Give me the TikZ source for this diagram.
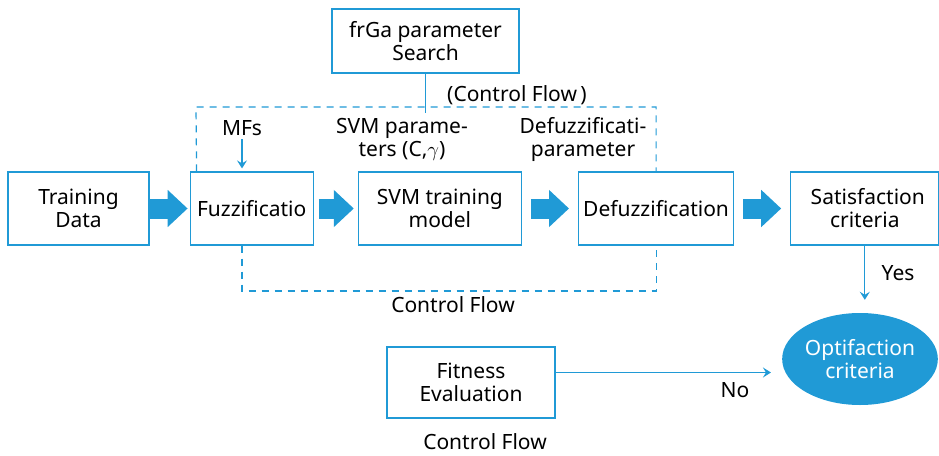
\documentclass[tikz,border=0pt]{standalone}
\usepackage{fontspec}
\setmainfont{Noto Sans}
\usetikzlibrary{positioning,arrows.meta,shapes.geometric}
\definecolor{flowblue}{RGB}{32,154,214}

\begin{document}
\begin{tikzpicture}[x=1pt, y=-1pt, every node/.style={font=\fontsize{21}{23}\selectfont},
  stagebox/.style={draw=flowblue, line width=1.2pt, align=center, minimum height=73pt, inner sep=2pt},
  fatarrow/.style={draw=flowblue, line width=20pt, -{Triangle[length=20pt, width=36pt]}},
  thinarrow/.style={draw=flowblue, line width=1.2pt, -{Stealth[length=8pt, width=10pt, inset=3pt]}},
  ctrlline/.style={draw=flowblue, line width=1.2pt, dash pattern=on 7pt off 6pt}]
\useasboundingbox (0,0) rectangle (939,455);
% main row
\node[stagebox, minimum width=141pt] (train) at (78.5,208.5) {Training\\ Data};
\node[stagebox, minimum width=123pt, right=40pt of train] (fuzz) {Fuzzificatio};
\node[stagebox, minimum width=163pt, right=44pt of fuzz] (svm) {SVM training\\ model};
\node[stagebox, minimum width=155pt, right=56pt of svm] (defuzz) {Defuzzification};
\node[stagebox, minimum width=148pt, right=56pt of defuzz] (satis) {\hspace*{6pt}Satisfaction\\ criteria};
\draw[fatarrow, shorten >=2pt] (train) -- (fuzz);
\draw[fatarrow, shorten <=5pt, shorten >=4pt] (fuzz) -- (svm);
\draw[fatarrow, shorten <=9pt, shorten >=9pt] (svm) -- (defuzz);
\draw[fatarrow, shorten <=9pt, shorten >=9pt] (defuzz) -- (satis);
% parameter search and control flow
\node[stagebox, minimum width=187pt, minimum height=64pt] (frga) at (425.5,41) {frGa parameter\\ Search};
\coordinate (hub) at (0,113);
\draw[flowblue, line width=1.2pt] (frga.south) -- (frga.south |- hub);
\node (ctltop) at (517,95) {(Control Flow\,)};
\coordinate (dtl) at (196,107);
\coordinate (dtr) at (defuzz.north |- dtl);
\draw[ctrlline] ([xshift=7pt]fuzz.north west) -- (dtl) -- (dtr) -- (defuzz.north);
\node (mfs) at (242,128) {MFs};
\draw[thinarrow, shorten >=3pt] (mfs.south) -- (mfs.south |- fuzz.north);
\node[align=center] (svmpar) at (402,139) {SVM parame-\\ ters (C,$\gamma$)};
\node[align=center] (defpar) at (583,139) {Defuzzificati-\\ parameter};
\coordinate (dbl) at (242,291);
\draw[ctrlline] (dbl |- fuzz.south) -- (dbl) -- (dbl -| defuzz.south) -- (defuzz.south);
\node (ctlmid) at (453,305) {Control Flow};
% result
\node[ellipse, fill=flowblue, text=white, align=center, minimum width=153pt, minimum height=92pt, inner sep=0pt] (opt) at (860,359) {Optifaction\\ criteria};
\draw[thinarrow, shorten >=13pt] (satis.south) -- (satis.south |- opt.north);
\node (yes) at (898,273) {Yes};
\node[stagebox, minimum width=168pt, minimum height=71pt] (fit) at (471,382.5) {Fitness\\ Evaluation};
\draw[thinarrow, shorten >=11pt] ([yshift=10pt]fit.east) -- ([yshift=10pt]fit.east -| opt.west);
\node (no) at (735,390) {No};
\node[inner sep=1pt] (ctlbot) at (485,442) {Control Flow};
\end{tikzpicture}
\end{document}
